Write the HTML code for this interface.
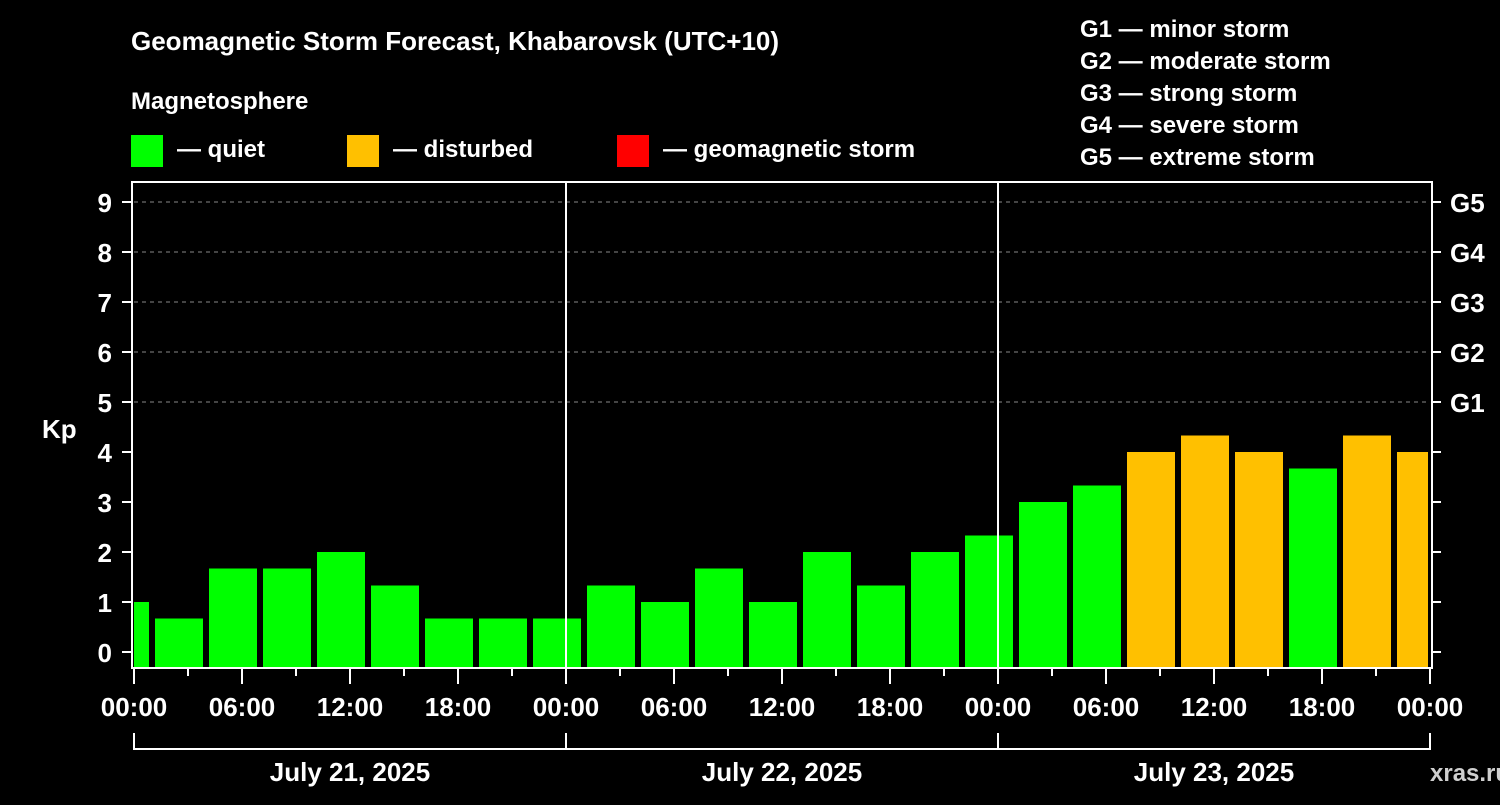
<!DOCTYPE html>
<html><head><meta charset="utf-8"><style>
body{margin:0;background:#000;width:1500px;height:800px;overflow:hidden;font-family:"Liberation Sans",Arial,sans-serif}
svg text{font-family:"Liberation Sans",Arial,sans-serif;font-weight:bold;fill:#fff}
</style></head><body>
<svg id="c" width="1500" height="800">
<text x="131" y="50" font-size="26">Geomagnetic Storm Forecast, Khabarovsk (UTC+10)</text>
<text x="131" y="109" font-size="24">Magnetosphere</text>
<g><rect x="131" y="135" width="32" height="32" fill="#00ff00"/><text x="177" y="157" font-size="24">— quiet</text></g>
<g><rect x="347" y="135" width="32" height="32" fill="#ffc000"/><text x="393" y="157" font-size="24">— disturbed</text></g>
<g><rect x="617" y="135" width="32" height="32" fill="#ff0000"/><text x="663" y="157" font-size="24">— geomagnetic storm</text></g>
<g font-size="24">
<text x="1080" y="37">G1 — minor storm</text>
<text x="1080" y="69">G2 — moderate storm</text>
<text x="1080" y="101">G3 — strong storm</text>
<text x="1080" y="133">G4 — severe storm</text>
<text x="1080" y="165">G5 — extreme storm</text>
</g>
<text x="42" y="438" font-size="26">Kp</text>
<text x="1430" y="781" font-size="24" fill="#ccc" style="fill:#cfcfcf">xras.ru</text>
<g id="plot"></g>
</svg>
<script>
const kpValues=[1.0,0.67,1.67,1.67,2.0,1.33,0.67,0.67,0.67,1.33,1.0,1.67,1.0,2.0,1.33,2.0,2.33,3.0,3.33,4.0,4.33,4.0,3.67,4.33,4.0];
const slotStartHours=[-2,1,4,7,10,13,16,19,22,25,28,31,34,37,40,43,46,49,52,55,58,61,64,67,70];
const yTicks=[0,1,2,3,4,5,6,7,8,9];
const gLabels=["G1","G2","G3","G4","G5"];
const gLevels=[5,6,7,8,9];
const xTickLabels=["00:00","06:00","12:00","18:00","00:00","06:00","12:00","18:00","00:00","06:00","12:00","18:00","00:00"];
const dayLabels=["July 21, 2025","July 22, 2025","July 23, 2025"];
const L=134,R=1430,T=182,B=668;
const x=h=>L+h*18;
const y=v=>652-v*50;
const NS="http://www.w3.org/2000/svg";
const g=document.getElementById('plot');
function mk(t,a){const e=document.createElementNS(NS,t);for(const k in a)e.setAttribute(k,a[k]);g.appendChild(e);return e;}
// grid
gLevels.forEach((v,i)=>{
const l=mk('line',{x1:L,x2:R,y1:y(v),y2:y(v),stroke:'#888','stroke-dasharray':'4,4','stroke-width':1});


const t=mk('text',{x:1450,y:y(v)+10,'font-size':26});
t.textContent=gLabels[i];


});
// bars
kpValues.forEach((v,i)=>{
let x0=x(slotStartHours[i])+3,x1=x(slotStartHours[i]+3)-3;
x0=Math.max(x0,L);x1=Math.min(x1,R-2);
const r=mk('rect',{x:x0,y:y(v),width:x1-x0,height:B-y(v),fill:v>=5?'#ff0000':(v>=4?'#ffc000':'#00ff00')});


});
// day separators
[24,48].forEach(h=>{const l=mk('line',{x1:x(h),x2:x(h),y1:T,y2:B,stroke:'#fff','stroke-width':2});

});
// axes frame
const f=mk('rect',{x:L-2,y:T,width:R-L+4,height:B-T,fill:'none',stroke:'#fff','stroke-width':2});


yTicks.forEach(v=>{
mk('line',{x1:L-12,x2:L-2,y1:y(v),y2:y(v),stroke:'#fff','stroke-width':2});
mk('line',{x1:R+2,x2:R+11,y1:y(v),y2:y(v),stroke:'#fff','stroke-width':2});
const t=mk('text',{x:L-22,y:y(v)+10,'font-size':26,'text-anchor':'end'});
t.textContent=v;


});
for(let h=0;h<=72;h+=3){
const len=h%6===0?16:8;
mk('line',{x1:x(h),x2:x(h),y1:B,y2:B+len,stroke:'#fff','stroke-width':2});
}
xTickLabels.forEach((s,i)=>{
const t=mk('text',{x:x(i*6),y:716,'font-size':26,'text-anchor':'middle'});
t.textContent=s;


});
mk('path',{d:`M${x(0)} 733V749H${x(72)}V733M${x(24)} 733V749M${x(48)} 733V749`,stroke:'#fff','stroke-width':2,fill:'none'});
dayLabels.forEach((s,i)=>{
const t=mk('text',{x:x(i*24+12),y:781,'font-size':26,'text-anchor':'middle'});
t.textContent=s;


});
</script>
</body></html>
